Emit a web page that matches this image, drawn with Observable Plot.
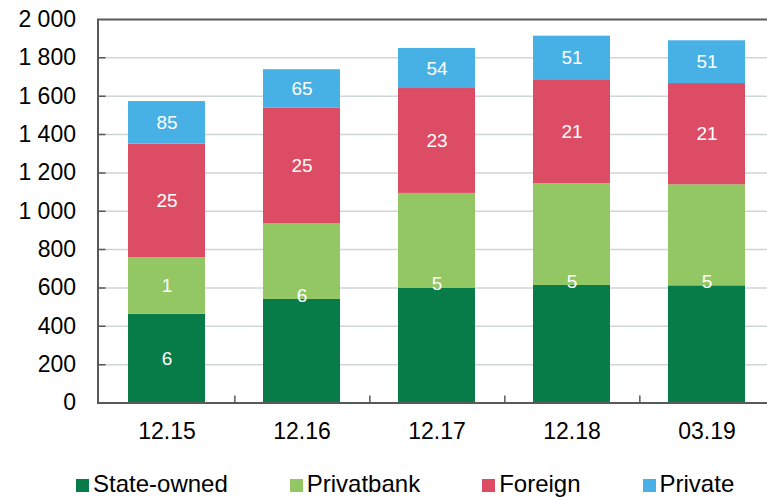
<!DOCTYPE html>
<html><head><meta charset="utf-8">
<script src="https://cdn.jsdelivr.net/npm/d3@7"></script>
<script src="https://cdn.jsdelivr.net/npm/@observablehq/plot@0.6"></script>
<style>
html,body{margin:0;padding:0;background:#fff;overflow:hidden;}
body{width:767px;height:497px;font-family:"Liberation Sans",Arial,sans-serif;}
#chart svg{display:block;}
#legend{display:flex;gap:62px;padding-left:76px;margin-top:17px;font-size:24px;color:#000;line-height:1;}
.item{display:flex;align-items:center;white-space:nowrap;}
.sw{width:13px;height:13px;margin-right:4px;margin-top:2px;}
</style></head><body><div id="chart"></div><div id="legend"></div>
<script>
const dates = ["12.15", "12.16", "12.17", "12.18", "03.19"];
const seriesNames = ["State-owned", "Privatbank", "Foreign", "Private"];
const seriesColors = ["#077c48", "#93c764", "#dc4c65", "#47b0e5"];

const stateOwned   = [463, 540, 599, 613, 611];
const privatbank   = [294, 394, 494, 530, 527];
const foreign      = [593, 603, 547, 543, 528];
const privateBanks = [222, 201, 209, 227, 223];

const stateLabels      = [6, 6, 5, 5, 5];
const privatbankLabels = [1, null, null, null, null];
const foreignLabels    = [25, 25, 23, 21, 21];
const privateLabels    = [85, 65, 54, 51, 51];

const yTicks = [0, 200, 400, 600, 800, 1000, 1200, 1400, 1600, 1800, 2000];

const valuesBySeries = [stateOwned, privatbank, foreign, privateBanks];
const labelsBySeries = [stateLabels, privatbankLabels, foreignLabels, privateLabels];

const table = seriesNames.flatMap((s, i) => dates.map((d, j) => ({
  date: d, series: s, value: valuesBySeries[i][j], label: labelsBySeries[i][j],
  // when Privatbank has no own label, the State-owned label sits at the top of its segment
  atTop: i === 0 && privatbankLabels[j] == null
})));

const fmt = d3.formatLocale({thousands: " ", grouping: [3], decimal: ".", currency: ["", ""]}).format(",");

const tickShape = {draw(context, l) { context.moveTo(0, 0); context.lineTo(0, -l); }};
const innerTicks = yTicks.filter(t => t > 0 && t < 2000);

const plot = Plot.plot({
  width: 767,
  height: 455,
  marginLeft: 97.5,
  marginRight: -9,
  marginTop: 19,
  marginBottom: 52.5,
  style: {fontFamily: "'Liberation Sans', Arial, sans-serif", fontSize: "23px", color: "#000", background: "#fff", overflow: "hidden"},
  x: {domain: dates, paddingInner: 0.432, paddingOuter: 0.216, label: null},
  y: {domain: [0, 2000], label: null},
  color: {domain: seriesNames, range: seriesColors},
  marks: [
    Plot.gridY(innerTicks, {stroke: "#d0d5d8", strokeOpacity: 1, strokeWidth: 1.5}),
    Plot.barY(table, {x: "date", y: "value", z: "series", fill: "series"}),
    Plot.text(table, Plot.stackY({x: "date", y: "value", z: "series",
      text: d => (d.label == null || d.atTop) ? "" : String(d.label),
      fill: "white", fontSize: 19})),
    Plot.text(table, Plot.stackY2({x: "date", y: "value", z: "series",
      text: d => d.atTop ? String(d.label) : "",
      fill: "white", fontSize: 19, dy: -4})),
    Plot.frame({stroke: "#595959", strokeWidth: 2}),
    // inward tick marks on the value axis
    Plot.vector(innerTicks, {y: d => d, frameAnchor: "left", rotate: 90, length: 7, anchor: "start",
      shape: tickShape, stroke: "#595959", strokeWidth: 1.5}),
    // inward tick marks between categories
    Plot.vector(dates, {x: d => d, y: 0, rotate: 0, length: 7, anchor: "start", dx: 67.85,
      shape: tickShape, stroke: "#595959", strokeWidth: 1.5}),
    Plot.axisY(yTicks, {tickSize: 0, tickPadding: 22, tickFormat: fmt, fontSize: 23, label: null}),
    Plot.axisX({tickSize: 0, tickPadding: 20, fontSize: 23, label: null})
  ]
});
document.getElementById("chart").appendChild(plot);

const legend = document.getElementById("legend");
seriesNames.forEach((s, i) => {
  const item = document.createElement("div");
  item.className = "item";
  const sw = document.createElement("span");
  sw.className = "sw";
  sw.style.background = seriesColors[i];
  const t = document.createElement("span");
  t.textContent = s;
  item.appendChild(sw);
  item.appendChild(t);
  legend.appendChild(item);
});
</script>
</body></html>
